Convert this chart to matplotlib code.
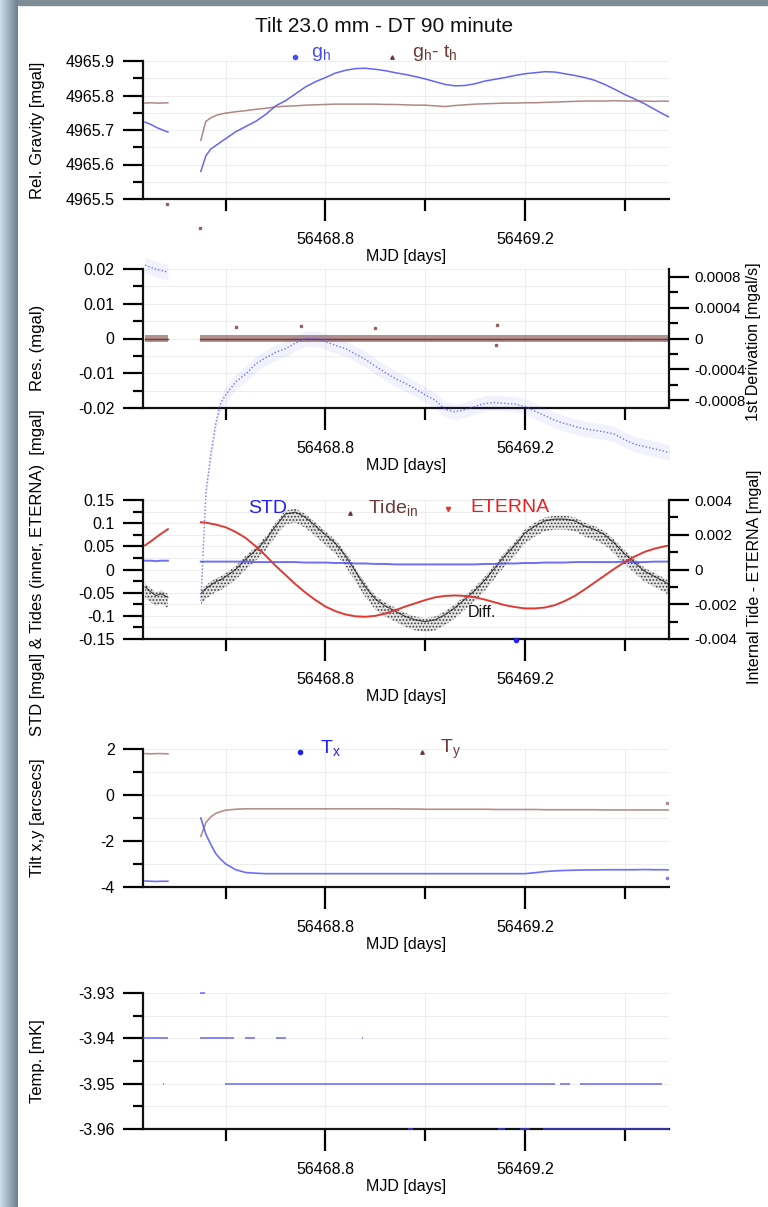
import numpy as np
import matplotlib.pyplot as plt
from matplotlib.ticker import FixedLocator, FixedFormatter
from matplotlib.patches import Rectangle

plt.rcParams['font.family'] = ['Liberation Sans', 'DejaVu Sans']
plt.rcParams['mathtext.fontset'] = 'custom'
plt.rcParams['mathtext.rm'] = 'Liberation Sans'
plt.rcParams['mathtext.it'] = 'Liberation Sans:italic'
plt.rcParams['hatch.linewidth'] = 0.8

# ---- time stamps (MJD) of the two recording pieces ----
t1 = [56468.438, 56468.45, 56468.46, 56468.47, 56468.484]
t2 = [56468.55, 56468.56, 56468.57, 56468.58, 56468.59, 56468.60,
      56468.62, 56468.64, 56468.66, 56468.68, 56468.70, 56468.72, 56468.74,
      56468.76, 56468.78, 56468.80, 56468.82, 56468.84, 56468.86, 56468.88,
      56468.90, 56468.92, 56468.94, 56468.96, 56468.98,
      56469.00, 56469.02, 56469.04, 56469.06, 56469.08, 56469.10, 56469.12,
      56469.14, 56469.16, 56469.18, 56469.20, 56469.22, 56469.24, 56469.26,
      56469.28, 56469.30, 56469.32, 56469.34, 56469.36, 56469.38, 56469.40,
      56469.42, 56469.44, 56469.46, 56469.48, 56469.49]

# ---- panel 1 : relative gravity ----
gh1 = [4965.723, 4965.716, 4965.708, 4965.702, 4965.694]
gh2 = [4965.58, 4965.625, 4965.645, 4965.655, 4965.665, 4965.675,
       4965.695, 4965.71, 4965.725, 4965.745, 4965.77, 4965.785, 4965.805,
       4965.825, 4965.84, 4965.852, 4965.865, 4965.873, 4965.878, 4965.879,
       4965.876, 4965.872, 4965.866, 4965.861, 4965.855,
       4965.848, 4965.840, 4965.832, 4965.828, 4965.829, 4965.834, 4965.842,
       4965.847, 4965.852, 4965.858, 4965.863, 4965.866, 4965.869, 4965.868,
       4965.863, 4965.858, 4965.852, 4965.844, 4965.832, 4965.818, 4965.803,
       4965.790, 4965.776, 4965.760, 4965.744, 4965.737]
ght1 = [4965.778, 4965.779, 4965.778, 4965.778, 4965.779]
ght2 = [4965.67, 4965.725, 4965.735, 4965.742, 4965.746, 4965.749,
        4965.753, 4965.756, 4965.760, 4965.763, 4965.767, 4965.769, 4965.770,
        4965.772, 4965.773, 4965.774, 4965.775, 4965.775, 4965.775, 4965.775,
        4965.775, 4965.774, 4965.774, 4965.773, 4965.772,
        4965.772, 4965.770, 4965.768, 4965.771, 4965.773, 4965.775, 4965.776,
        4965.777, 4965.778, 4965.778, 4965.779, 4965.779, 4965.780, 4965.781,
        4965.782, 4965.783, 4965.784, 4965.784, 4965.784, 4965.785, 4965.784,
        4965.784, 4965.784, 4965.783, 4965.784, 4965.783]
ght_out_t = [56468.483, 56468.549]
ght_out = [4965.4855, 4965.416]

# ---- panel 2 : residuals and 1st derivation ----
res_start = [56468.438, 56468.549]
res_end = [56468.484, 56469.489]
res_half = 0.0011
res_out_t = [56468.62, 56468.75, 56469.145, 56469.143, 56468.90]
res_out = [0.0033, 0.0036, 0.0039, -0.0019, 0.0031]
der1 = [0.00095, 0.00092, 0.0009, 0.00088, 0.00086]
der2 = [-0.0034, -0.0020, -0.0015, -0.0011, -0.00083, -0.00073,
        -0.00056, -0.00046, -0.00033, -0.00025, -0.00018, -0.00013, -0.00006,
        0.0, 0.0, -0.00004, -0.00009, -0.00013, -0.0002, -0.00027,
        -0.00036, -0.00044, -0.00052, -0.00058, -0.00065,
        -0.00073, -0.0008, -0.00092, -0.00095, -0.00092, -0.00088, -0.00084,
        -0.00083, -0.00084, -0.00085, -0.00088, -0.00094, -0.001, -0.00106,
        -0.0011, -0.00114, -0.00117, -0.00119, -0.00121, -0.00124, -0.00131,
        -0.00137, -0.0014, -0.00143, -0.00146, -0.00148]
der_half = 0.0001

# ---- panel 3 : STD, tides and difference ----
std1 = [0.019, 0.019, 0.018, 0.019, 0.019]
std2 = [0.017, 0.017, 0.017, 0.017, 0.017, 0.017,
        0.017, 0.017, 0.016, 0.016, 0.016, 0.016, 0.016,
        0.015, 0.015, 0.015, 0.014, 0.014, 0.013, 0.013,
        0.012, 0.012, 0.011, 0.011, 0.011,
        0.011, 0.011, 0.011, 0.011, 0.011, 0.011, 0.012,
        0.012, 0.013, 0.013, 0.014, 0.014, 0.015, 0.015,
        0.015, 0.016, 0.016, 0.016, 0.016, 0.016, 0.017,
        0.016, 0.016, 0.017, 0.017, 0.017]
eterna1 = [0.052, 0.061, 0.069, 0.077, 0.087]
eterna2 = [0.102, 0.101, 0.099, 0.097, 0.094, 0.091,
           0.081, 0.068, 0.050, 0.030, 0.008, -0.012, -0.032,
           -0.050, -0.066, -0.080, -0.090, -0.097, -0.101, -0.102,
           -0.100, -0.095, -0.088, -0.080, -0.073,
           -0.066, -0.060, -0.057, -0.056, -0.057, -0.060, -0.065,
           -0.071, -0.077, -0.081, -0.084, -0.084, -0.082, -0.077,
           -0.068, -0.057, -0.043, -0.028, -0.013, 0.002, 0.016,
           0.028, 0.038, 0.045, 0.050, 0.052]
# inner tide lies on top of ETERNA at this scale
tide1 = list(eterna1)
tide2 = list(eterna2)
diff1 = [-0.0012, -0.0015, -0.0017, -0.0016, -0.0018]
diff2 = [-0.0016, -0.0013, -0.0011, -0.0009, -0.0008, -0.0006,
         -0.0002, 0.0004, 0.0009, 0.0015, 0.0023, 0.0030, 0.0031,
         0.0028, 0.0023, 0.0018, 0.0013, 0.0006, -0.0003, -0.0012,
         -0.0019, -0.0023, -0.0026, -0.0029, -0.0031,
         -0.0032, -0.0031, -0.0028, -0.0024, -0.0019, -0.0014, -0.0008,
         -0.0001, 0.0006, 0.0012, 0.0019, 0.0023, 0.0026, 0.0027,
         0.0027, 0.0026, 0.0023, 0.0021, 0.0018, 0.0013, 0.0007,
         0.0002, -0.0003, -0.0006, -0.0009, -0.0011]
diff_half = 0.0004

# ---- panel 4 : tilt ----
tx1 = [-3.74, -3.75, -3.76, -3.75, -3.75]
tx2 = [-1.0, -1.7, -2.15, -2.55, -2.8, -3.0,
       -3.25, -3.37, -3.4, -3.42, -3.42, -3.42, -3.42,
       -3.42, -3.42, -3.42, -3.42, -3.42, -3.42, -3.42,
       -3.42, -3.42, -3.42, -3.42, -3.42,
       -3.42, -3.42, -3.42, -3.42, -3.42, -3.42, -3.42,
       -3.42, -3.42, -3.42, -3.42, -3.38, -3.33, -3.3,
       -3.28, -3.27, -3.26, -3.26, -3.25, -3.25, -3.25,
       -3.25, -3.24, -3.25, -3.25, -3.26]
ty1 = [1.8, 1.79, 1.8, 1.8, 1.79]
ty2 = [-1.8, -1.2, -0.95, -0.8, -0.72, -0.66,
       -0.62, -0.6, -0.6, -0.6, -0.6, -0.6, -0.6,
       -0.6, -0.6, -0.6, -0.6, -0.6, -0.6, -0.6,
       -0.6, -0.6, -0.6, -0.61, -0.61,
       -0.62, -0.62, -0.62, -0.62, -0.62, -0.62, -0.62,
       -0.63, -0.63, -0.63, -0.63, -0.63, -0.64, -0.64,
       -0.64, -0.64, -0.64, -0.64, -0.65, -0.65, -0.65,
       -0.65, -0.65, -0.65, -0.65, -0.65]
tx_out_t = [56469.485]
tx_out = [-3.6]
ty_out_t = [56469.485]
ty_out = [-0.35]

# ---- panel 5 : temperature (quantised steps) ----
temp_level = [-3.93, -3.94, -3.94, -3.94, -3.94, -3.94,
              -3.95, -3.95, -3.95, -3.95,
              -3.96, -3.96, -3.96, -3.96]
temp_start = [56468.549, 56468.435, 56468.549, 56468.639, 56468.701, 56468.873,
              56468.475, 56468.598, 56469.27, 56469.31,
              56468.966, 56469.146, 56469.19, 56469.236]
temp_end = [56468.559, 56468.484, 56468.616, 56468.659, 56468.721, 56468.876,
            56468.477, 56469.26, 56469.29, 56469.475,
            56468.976, 56469.16, 56469.21, 56469.49]

BLUE = '#4a4af5'
BROWN = '#93625f'
BROWN_TXT = '#6b3a38'
RED = '#e8342c'
FS = 11.5

W, H = 768, 1207
fig = plt.figure(figsize=(W / 100, H / 100), dpi=100)

# window frame
grad = np.linspace([0.79, 0.86, 0.91], [0.43, 0.51, 0.56], 18)[None, :, :]
axf = fig.add_axes([0, 0, 18 / W, 1])
axf.imshow(grad, aspect='auto')
axf.axis('off')
fig.patches.append(Rectangle((18 / W, 1 - 5 / H), 1, 5 / H,
                             transform=fig.transFigure, color='#7d8c95'))

fig.text(0.5, 1 - 27 / H, 'Tilt 23.0 mm - DT 90 minute', ha='center',
         va='center', fontsize=15, color='#111111')


def panel(top, bottom):
    ax = fig.add_axes([143 / W, 1 - bottom / H, 526 / W, (bottom - top) / H])
    ax.set_facecolor('none')
    ax.set_xlim(56468.434, 56469.489)
    for s in ['top', 'right']:
        ax.spines[s].set_visible(False)
    for s in ['left', 'bottom']:
        ax.spines[s].set_linewidth(1.6)
        ax.spines[s].set_color('#111111')
    ax.xaxis.set_major_locator(FixedLocator([56468.8, 56469.2]))
    ax.xaxis.set_major_formatter(FixedFormatter(['56468.8', '56469.2']))
    ax.xaxis.set_minor_locator(FixedLocator([56468.6, 56469.0, 56469.4]))
    ax.tick_params(axis='x', which='major', direction='out', length=16,
                   width=1.6, labelsize=FS, pad=8)
    ax.tick_params(axis='x', which='minor', direction='out', length=8.5,
                   width=1.6)
    ax.tick_params(axis='y', which='major', direction='out', length=14.5,
                   width=1.6, labelsize=FS, pad=6)
    ax.tick_params(axis='y', which='minor', direction='out', length=7.5,
                   width=1.6)
    ax.grid(True, which='both', color='#ededed', lw=0.8)
    ax.set_axisbelow(True)
    ax.set_xlabel('MJD [days]', fontsize=FS, labelpad=1)
    return ax


def yticks(ax, major, labels, minor):
    ax.yaxis.set_major_locator(FixedLocator(major))
    ax.yaxis.set_major_formatter(FixedFormatter(labels))
    ax.yaxis.set_minor_locator(FixedLocator(minor))


def right_axis(ax):
    axr = ax.twinx()
    axr.set_facecolor('none')
    for s in ['top', 'left', 'bottom']:
        axr.spines[s].set_visible(False)
    axr.spines['right'].set_linewidth(1.6)
    axr.spines['right'].set_color('#111111')
    axr.tick_params(axis='y', which='major', direction='out', length=14.5,
                    width=1.6, labelsize=10.8, pad=4)
    axr.tick_params(axis='y', which='minor', direction='out', length=6.5,
                    width=1.6)
    return axr


def legend_item(ax, x, y, marker, mcolor, ms, tx, ty, text, tcolor):
    ax.plot([x], [y], marker=marker, color=mcolor, ms=ms, ls='none',
            transform=ax.transAxes, clip_on=False)
    ax.text(tx, ty, text, color=tcolor, fontsize=14, va='baseline',
            transform=ax.transAxes)


# ---------------- panel 1 ----------------
ax1 = panel(61, 199)
ax1.set_ylim(4965.5, 4965.9)
yticks(ax1, [4965.5, 4965.6, 4965.7, 4965.8, 4965.9],
       ['4965.5', '4965.6', '4965.7', '4965.8', '4965.9'],
       [4965.55, 4965.65, 4965.75, 4965.85])
for tt, gg in [(t1, gh1), (t2, gh2)]:
    ax1.plot(tt, gg, color=BLUE, lw=1.1, alpha=0.85)
for tt, gg in [(t1, ght1), (t2, ght2)]:
    ax1.plot(tt, gg, color=BROWN, lw=1.1, alpha=0.75)
ax1.plot(ght_out_t, ght_out, 's', color=BROWN, ms=1.5, clip_on=False)
ax1.set_ylabel('Rel. Gravity [mgal]', fontsize=12)
ax1.yaxis.set_label_coords(-0.187, 0.5)
legend_item(ax1, 0.289, 1.029, 'o', BLUE, 3, 0.32, 1.029,
            r'g$_\mathrm{h}$', BLUE)
legend_item(ax1, 0.473, 1.029, '^', BROWN_TXT, 2.5, 0.511, 1.029,
            r'g$_\mathrm{h}$- t$_\mathrm{h}$', BROWN_TXT)

# ---------------- panel 2 ----------------
ax2 = panel(269, 408)
ax2.set_ylim(-0.02, 0.02)
yticks(ax2, [-0.02, -0.01, 0, 0.01, 0.02],
       ['-0.02', '-0.01', '0', '0.01', '0.02'],
       [-0.015, -0.005, 0.005, 0.015])
for s, e in zip(res_start, res_end):
    ax2.fill_between([s, e], [-res_half, -res_half], [res_half, res_half],
                     color=BROWN, alpha=0.7, lw=0)
    ax2.plot([s, e], [0, 0], color=BROWN_TXT, lw=1.0)
ax2.plot(res_out_t, res_out, 's', color=BROWN, ms=1.5)
ax2.set_ylabel('Res. (mgal)', fontsize=12)
ax2.yaxis.set_label_coords(-0.187, 0.43)
ax2r = right_axis(ax2)
ax2r.set_ylim(-0.0009, 0.0009)
yticks(ax2r, [-0.0008, -0.0004, 0, 0.0004, 0.0008],
       ['-0.0008', '-0.0004', '0', '0.0004', '0.0008'],
       [-0.0006, -0.0002, 0.0002, 0.0006])
for tt, dd in [(t1, der1), (t2, der2)]:
    dd = np.array(dd)
    ax2r.fill_between(tt, dd - der_half, dd + der_half, color=BLUE,
                      alpha=0.07, lw=0, clip_on=False)
    ax2r.plot(tt, dd, color=BLUE, lw=1.0, ls=(0, (1, 1.5)), alpha=0.75,
              clip_on=False)
ax2r.set_ylabel('1st Derivation [mgal/s]', fontsize=11.5)
ax2r.yaxis.set_label_coords(1.147, 0.48)

# ---------------- panel 3 ----------------
ax3 = panel(500, 639)
ax3.set_ylim(-0.15, 0.15)
yticks(ax3, [-0.15, -0.1, -0.05, 0, 0.05, 0.1, 0.15],
       ['-0.15', '-0.1', '-0.05', '0', '0.05', '0.1', '0.15'],
       [-0.125, -0.075, -0.025, 0.025, 0.075, 0.125])
ax3r = right_axis(ax3)
ax3r.set_ylim(-0.004, 0.004)
yticks(ax3r, [-0.004, -0.002, 0, 0.002, 0.004],
       ['-0.004', '-0.002', '0', '0.002', '0.004'],
       [-0.003, -0.001, 0.001, 0.003])
for tt, dd in [(t1, diff1), (t2, diff2)]:
    dd = np.array(dd)
    ax3r.fill_between(tt, dd - diff_half, dd + diff_half, facecolor='#e4e4e4',
                      edgecolor='#3a3a3a', hatch='.....', lw=0)
    ax3r.plot(tt, dd + diff_half * 0.5, color='#111111', lw=0.8, alpha=0.75)
for tt, ss in [(t1, std1), (t2, std2)]:
    ax3r.plot(tt, np.array(ss) * 0.004 / 0.15, color=BLUE, lw=1.4, alpha=0.8)
for tt, tid in [(t1, tide1), (t2, tide2)]:
    ax3r.plot(tt, np.array(tid) * 0.004 / 0.15, color=BROWN_TXT, lw=1.5,
              alpha=0.35)
for tt, et in [(t1, eterna1), (t2, eterna2)]:
    ax3r.plot(tt, np.array(et) * 0.004 / 0.15, color=RED, lw=1.2)
ax3r.text(56469.085, -0.102 * 0.004 / 0.15, 'Diff.', fontsize=FS,
          va='baseline', color='#111111')
ax3.set_ylabel('STD [mgal] & Tides (inner, ETERNA)  [mgal]', fontsize=12)
ax3.yaxis.set_label_coords(-0.187, 0.48)
ax3r.set_ylabel('Internal Tide - ETERNA [mgal]', fontsize=11.5)
ax3r.yaxis.set_label_coords(1.148, 0.45)
ax3r.text(0.2, 0.906, 'STD', color='#2020ff', fontsize=14, va='baseline',
          transform=ax3r.transAxes)
ax3r.plot([0.709], [-0.005], 'o', color='#2020ff', ms=3,
          transform=ax3r.transAxes, clip_on=False)
legend_item(ax3r, 0.394, 0.906, '^', BROWN_TXT, 2.5, 0.428, 0.906,
            r'Tide$_\mathrm{in}$', BROWN_TXT)
legend_item(ax3r, 0.58, 0.935, 'v', RED, 3, 0.622, 0.914, 'ETERNA', '#ee1c1c')

# ---------------- panel 4 ----------------
ax4 = panel(749, 887)
ax4.set_ylim(-4, 2)
yticks(ax4, [-4, -2, 0, 2], ['-4', '-2', '0', '2'], [-3, -1, 1])
for tt, vv in [(t1, ty1), (t2, ty2)]:
    ax4.plot(tt, vv, color=BROWN, lw=1.2, alpha=0.7)
for tt, vv in [(t1, tx1), (t2, tx2)]:
    ax4.plot(tt, vv, color=BLUE, lw=1.2, alpha=0.8)
ax4.plot(tx_out_t, tx_out, 's', color=BLUE, ms=2, alpha=0.6)
ax4.plot(ty_out_t, ty_out, 's', color=BROWN, ms=2, alpha=0.6)
ax4.set_ylabel('Tilt x,y [arcsecs]', fontsize=12)
ax4.yaxis.set_label_coords(-0.187, 0.5)
legend_item(ax4, 0.298, 0.978, 'o', '#2020ff', 3, 0.336, 0.971,
            r'T$_\mathrm{x}$', '#2020ff')
legend_item(ax4, 0.53, 0.978, '^', BROWN_TXT, 2.5, 0.565, 0.971,
            r'T$_\mathrm{y}$', BROWN_TXT)

# ---------------- panel 5 ----------------
ax5 = panel(993, 1129)
ax5.set_ylim(-3.96, -3.93)
yticks(ax5, [-3.96, -3.95, -3.94, -3.93],
       ['-3.96', '-3.95', '-3.94', '-3.93'],
       [-3.955, -3.945, -3.935])
ax5.hlines(temp_level, temp_start, temp_end, color=BLUE, lw=1.4, alpha=0.65,
           clip_on=False, zorder=4)
ax5.set_ylabel('Temp. [mK]', fontsize=12)
ax5.yaxis.set_label_coords(-0.187, 0.5)

fig.savefig('out.png', dpi=100)
